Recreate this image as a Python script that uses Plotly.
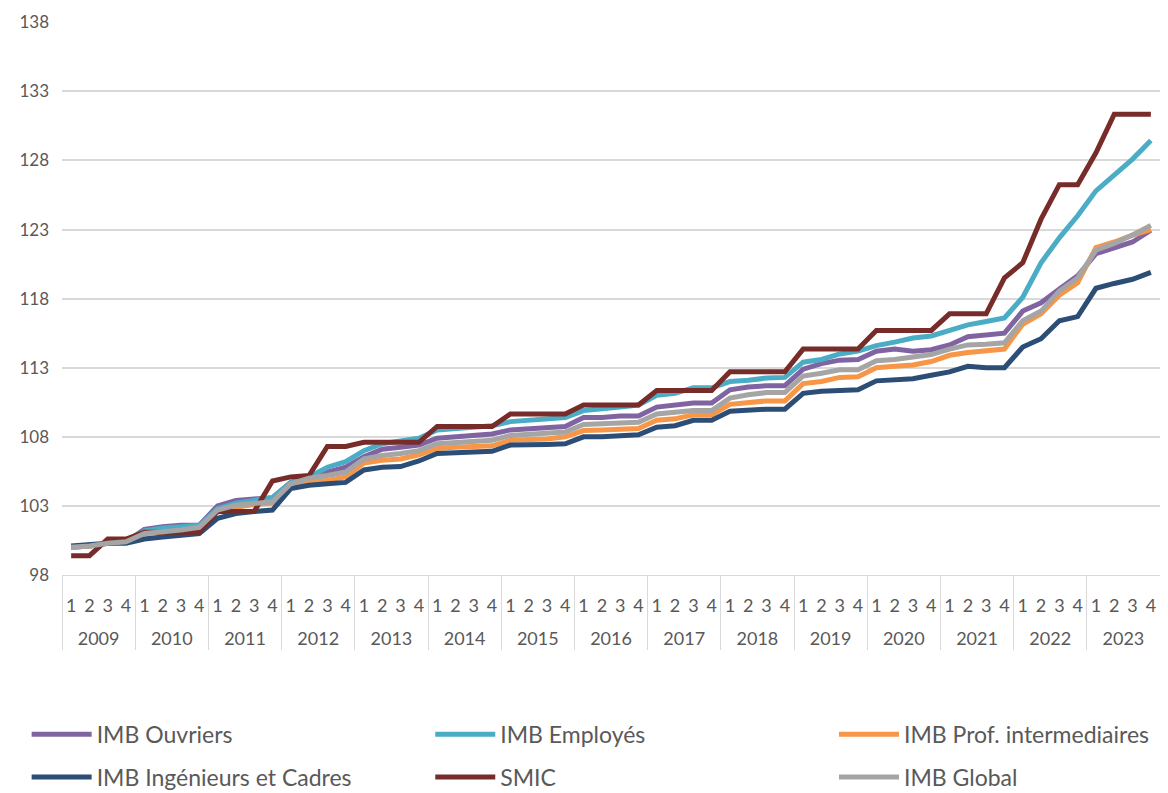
import plotly.graph_objects as go

years = [str(y) for y in range(2009, 2024)]
quarters = ["1", "2", "3", "4"]

ouvriers = [100.0, 100.1, 100.3, 100.4, 101.3, 101.5, 101.6, 101.6, 103.0, 103.4, 103.5, 103.6,
            104.7, 104.85, 105.45, 105.8, 106.55, 107.1, 107.25, 107.4, 107.9, 108.0, 108.05, 108.2,
            108.5, 108.6, 108.7, 108.75, 109.4, 109.4, 109.5, 109.5, 110.15, 110.3, 110.45, 110.45,
            111.4, 111.6, 111.7, 111.7, 112.9, 113.3, 113.55, 113.6, 114.2, 114.35, 114.2, 114.3,
            114.65, 115.25, 115.35, 115.5, 117.1, 117.7, 118.7, 119.65, 121.25, 121.65, 122.1, 122.95]
employes = [100.0, 100.1, 100.3, 100.4, 101.2, 101.4, 101.5, 101.6, 102.8, 103.2, 103.4, 103.6,
            104.7, 105.1, 105.8, 106.2, 107.0, 107.5, 107.7, 107.9, 108.5, 108.6, 108.7, 108.8,
            109.1, 109.2, 109.3, 109.4, 109.9, 110.0, 110.15, 110.3, 111.0, 111.15, 111.55, 111.55,
            112.0, 112.1, 112.25, 112.3, 113.4, 113.6, 114.0, 114.2, 114.6, 114.85, 115.15, 115.3,
            115.7, 116.1, 116.35, 116.6, 118.1, 120.6, 122.4, 124.0, 125.8, 126.9, 128.1, 129.45]
prof_inter = [100.0, 100.1, 100.3, 100.4, 101.0, 101.1, 101.2, 101.4, 102.6, 102.9, 103.1, 103.2,
              104.5, 104.7, 104.85, 105.1, 106.1, 106.3, 106.4, 106.7, 107.15, 107.25, 107.3, 107.35,
              107.75, 107.8, 107.85, 108.0, 108.45, 108.5, 108.55, 108.6, 109.2, 109.3, 109.6, 109.6,
              110.35, 110.5, 110.6, 110.6, 111.85, 112.0, 112.3, 112.35, 113.0, 113.1, 113.2, 113.45,
              113.9, 114.1, 114.2, 114.35, 116.15, 116.9, 118.25, 119.15, 121.7, 122.1, 122.6, 123.0]
ingenieurs = [100.1, 100.2, 100.3, 100.3, 100.6, 100.75, 100.85, 101.0, 102.1, 102.45, 102.6, 102.7,
              104.25, 104.5, 104.6, 104.7, 105.6, 105.8, 105.85, 106.25, 106.8, 106.85, 106.9, 106.95,
              107.4, 107.4, 107.45, 107.5, 108.0, 108.0, 108.1, 108.15, 108.7, 108.8, 109.2, 109.2,
              109.85, 109.95, 110.0, 110.0, 111.15, 111.3, 111.35, 111.4, 112.05, 112.1, 112.2, 112.45,
              112.7, 113.1, 113.0, 113.0, 114.5, 115.1, 116.4, 116.7, 118.75, 119.1, 119.4, 119.9]
smic = [99.4, 99.4, 100.6, 100.6, 101.1, 101.1, 101.1, 101.1, 102.6, 102.6, 102.6, 104.8,
        105.1, 105.2, 107.3, 107.3, 107.6, 107.6, 107.6, 107.6, 108.75, 108.75, 108.75, 108.75,
        109.65, 109.65, 109.65, 109.65, 110.3, 110.3, 110.3, 110.3, 111.35, 111.35, 111.35, 111.35,
        112.7, 112.7, 112.7, 112.7, 114.35, 114.35, 114.35, 114.35, 115.7, 115.7, 115.7, 115.7,
        116.9, 116.9, 116.9, 119.5, 120.6, 123.75, 126.25, 126.25, 128.55, 131.35, 131.35, 131.35]
imb_global = [100.0, 100.1, 100.3, 100.4, 101.0, 101.1, 101.25, 101.45, 102.7, 103.05, 103.2, 103.3,
              104.6, 105.0, 105.2, 105.45, 106.4, 106.65, 106.8, 107.0, 107.5, 107.6, 107.65, 107.75,
              108.1, 108.2, 108.25, 108.35, 108.9, 108.95, 109.0, 109.05, 109.65, 109.75, 109.9, 109.9,
              110.8, 111.05, 111.2, 111.2, 112.4, 112.6, 112.85, 112.85, 113.5, 113.6, 113.75, 113.95,
              114.35, 114.65, 114.7, 114.8, 116.4, 117.1, 118.55, 119.5, 121.5, 122.0, 122.6, 123.3]

series_names = ["IMB Ouvriers", "IMB Employés", "IMB Prof. intermediaires",
                "IMB Ingénieurs et Cadres", "SMIC", "IMB Global"]
series_values = [ouvriers, employes, prof_inter, ingenieurs, smic, imb_global]
series_colors = ["#8064A2", "#4BACC6", "#F79646", "#2C4D75", "#772C2A", "#A5A5A5"]
legend_ids = ["legend", "legend2", "legend3", "legend", "legend2", "legend3"]

# year label pushed down one line to mimic the spacing of the original category axis
x_years = ["\u00a0<br>" + y for y in years for _ in quarters]
x_quarters = [q for _ in years for q in quarters]

fig = go.Figure()
for i, (name, vals, col, lg) in enumerate(zip(series_names, series_values, series_colors, legend_ids)):
    fig.add_trace(go.Scatter(
        x=[x_years, x_quarters], y=vals, name=name, mode="lines",
        line=dict(color=col, width=5, shape="linear"),
        legend=lg, legendgroup="g%d" % i,
    ))

leg_common = dict(
    orientation="v", y=-0.249, yanchor="top", xanchor="left",
    font=dict(size=23, color="#595959"),
    itemwidth=60, tracegroupgap=10, traceorder="grouped",
    bgcolor="rgba(0,0,0,0)",
)
fig.update_layout(
    width=1168, height=793,
    paper_bgcolor="white", plot_bgcolor="white",
    margin=dict(l=54, r=16, t=14, b=226, autoexpand=False),
    font=dict(family="Lato, 'Liberation Sans', sans-serif", color="#595959", size=17),
    showlegend=True,
    legend=dict(x=-0.0322, **leg_common),
    legend2=dict(x=0.3354, **leg_common),
    legend3=dict(x=0.7031, **leg_common),
)
fig.update_xaxes(
    type="multicategory", range=[-0.5, 59.5], automargin=False,
    tickmode="linear", tick0=0, dtick=1, tickangle=0,
    showgrid=False, showline=True, linecolor="#D9D9D9", linewidth=1,
    showdividers=True, dividercolor="#D9D9D9", dividerwidth=1,
    tickfont=dict(size=18, color="#595959"), ticks="", ticklabelstandoff=14,
)
fig.update_yaxes(
    range=[98, 138.02], tickvals=list(range(98, 139, 5)), automargin=False,
    showgrid=True, gridcolor="#D9D9D9", gridwidth=1.5,
    zeroline=False, showline=False, ticks="",
    tickfont=dict(size=17, color="#595959"), ticklabelstandoff=12,
)

fig.write_html("out.html")
